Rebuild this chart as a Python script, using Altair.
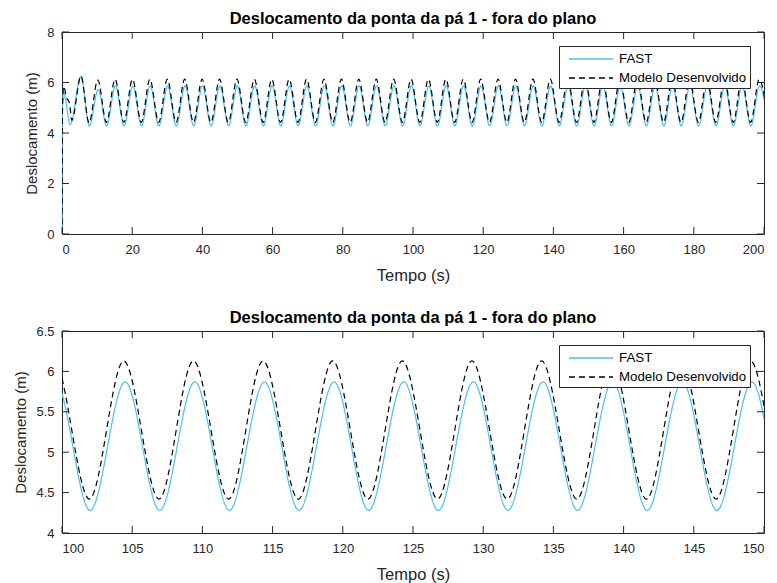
import altair as alt
import pandas as pd

# ---------------- data ----------------
# start-up transient (time s, displacement m)
fast_start_t = [0.0, 0.12, 0.45, 1.0, 2.3, 5.4, 7.8, 10.3]
fast_start_v = [0.0, 4.8, 5.62, 5.35, 4.33, 6.25, 4.28, 5.72]
model_start_t = [0.0, 0.15, 0.45, 1.3, 2.1, 2.8, 5.4, 7.7, 10.2]
model_start_v = [0.0, 5.0, 5.85, 5.4, 5.2, 4.5, 6.25, 4.4, 6.1]

# steady oscillation: times of the troughs and peaks
fast_trough_t = [12.72, 17.68, 22.64, 27.60, 32.56, 37.52, 42.48, 47.44, 52.40, 57.36,
                 62.32, 67.28, 72.24, 77.20, 82.16, 87.12, 92.08, 97.04, 102.00, 106.96,
                 111.92, 116.88, 121.84, 126.80, 131.76, 136.72, 141.68, 146.64, 151.60,
                 156.56, 161.52, 166.48, 171.44, 176.40, 181.36, 186.32, 191.28, 196.24, 201.20]
fast_peak_t = [15.22, 20.18, 25.14, 30.10, 35.06, 40.02, 44.98, 49.94, 54.90, 59.86,
               64.82, 69.78, 74.74, 79.70, 84.66, 89.62, 94.58, 99.54, 104.50, 109.46,
               114.42, 119.38, 124.34, 129.30, 134.26, 139.22, 144.18, 149.14, 154.10,
               159.06, 164.02, 168.98, 173.94, 178.90, 183.86, 188.82, 193.78, 198.74]
model_trough_t = [12.67, 17.63, 22.59, 27.55, 32.51, 37.47, 42.43, 47.39, 52.35, 57.31,
                  62.27, 67.23, 72.19, 77.15, 82.11, 87.07, 92.03, 96.99, 101.95, 106.91,
                  111.87, 116.83, 121.79, 126.75, 131.71, 136.67, 141.63, 146.59, 151.55,
                  156.51, 161.47, 166.43, 171.39, 176.35, 181.31, 186.27, 191.23, 196.19, 201.15]
model_peak_t = [15.12, 20.08, 25.04, 30.00, 34.96, 39.92, 44.88, 49.84, 54.80, 59.76,
                64.72, 69.68, 74.64, 79.60, 84.56, 89.52, 94.48, 99.44, 104.40, 109.36,
                114.32, 119.28, 124.24, 129.20, 134.16, 139.12, 144.08, 149.04, 154.00,
                158.96, 163.92, 168.88, 173.84, 178.80, 183.76, 188.72, 193.68, 198.64]
fast_trough_v = 4.28
fast_peak_v = 5.87
model_trough_v = 4.42
model_peak_v = 6.13

series_names = ["FAST", "Modelo Desenvolvido"]
series_colors = ["#4DBEEE", "#000000"]

top_xticks = [0, 20, 40, 60, 80, 100, 120, 140, 160, 180, 200]
top_yticks = [0, 2, 4, 6, 8]
bot_xticks = [100, 105, 110, 115, 120, 125, 130, 135, 140, 145, 150]
bot_yticks = [4, 4.5, 5, 5.5, 6, 6.5]

title_text = "Deslocamento da ponta da pá 1 - fora do plano"
x_title = "Tempo (s)"
y_title = "Deslocamento (m)"


# ---------------- build table ----------------
def build(name, st, sv, tt, tv, pt, pv):
    rows = [(t, v) for t, v in zip(st, sv)]
    rows += [(t, tv) for t in tt]
    rows += [(t, pv) for t in pt]
    rows.sort()
    return pd.DataFrame({"t": [r[0] for r in rows], "v": [r[1] for r in rows], "serie": name})


df = pd.concat([
    build("FAST", fast_start_t, fast_start_v, fast_trough_t, fast_trough_v, fast_peak_t, fast_peak_v),
    build("Modelo Desenvolvido", model_start_t, model_start_v, model_trough_t, model_trough_v,
          model_peak_t, model_peak_v),
], ignore_index=True)
df["ordem"] = df["serie"].map({"FAST": 0, "Modelo Desenvolvido": 1})

W, H = 702, 202
TK = 7
AX = "#262626"
FONT = "Liberation Sans"


def panel(xdom, ydom, xticks, yticks):
    legend = alt.Legend(
        title=None, orient="top-right", offset=14, fillColor="white", strokeColor=AX,
        padding=3, symbolType="M-2.45,0H2.45", symbolSize=324, symbolStrokeWidth=1.3,
        symbolFillColor="transparent",
        labelFontSize=13.3, labelFont=FONT, labelColor="black", rowPadding=2,
        labelOffset=18, symbolOffset=19, cornerRadius=0,
    )
    X = alt.X("t:Q", scale=alt.Scale(domain=xdom, nice=False, zero=False),
              axis=alt.Axis(values=xticks, title=x_title, format="~f",
                            labelPadding=9, titlePadding=11, titleFontSize=16.5))
    Y = alt.Y("v:Q", scale=alt.Scale(domain=ydom, nice=False, zero=False),
              axis=alt.Axis(values=yticks, title=y_title, format="~f",
                            labelPadding=8, titlePadding=7, titleFontSize=15))
    lines = alt.Chart(df).mark_line(interpolate="monotone", strokeWidth=1.2, clip=True).encode(
        x=X, y=Y,
        color=alt.Color("serie:N", scale=alt.Scale(domain=series_names, range=series_colors),
                        legend=legend),
        strokeDash=alt.StrokeDash("serie:N", scale=alt.Scale(domain=series_names,
                                                             range=[[1, 0], [6, 4]]),
                                  legend=legend),
        order=alt.Order("ordem:Q"),
    )
    xt = pd.DataFrame({"t": xticks})
    yt = pd.DataFrame({"v": yticks})
    tb = alt.Chart(xt).mark_rule(color=AX).encode(x=X, y=alt.value(H), y2=alt.value(H - TK))
    tt = alt.Chart(xt).mark_rule(color=AX).encode(x=X, y=alt.value(0), y2=alt.value(TK))
    tl = alt.Chart(yt).mark_rule(color=AX).encode(y=Y, x=alt.value(0), x2=alt.value(TK))
    tr = alt.Chart(yt).mark_rule(color=AX).encode(y=Y, x=alt.value(W - TK), x2=alt.value(W))
    return alt.layer(lines, tb, tt, tl, tr).properties(
        width=W, height=H,
        title=alt.TitleParams(title_text, fontSize=16.5, font=FONT, fontWeight="bold",
                              color="black", frame="group", anchor="middle", offset=-1),
    )


top = panel([0, 200], [0, 8], top_xticks, top_yticks)
bot = panel([100, 150], [4, 6.5], bot_xticks, bot_yticks)

chart = alt.vconcat(top, bot, spacing=25).resolve_scale(
    color="independent", strokeDash="independent"
).resolve_legend(color="independent", strokeDash="independent").properties(
    padding={"left": 13, "top": 10, "right": 5, "bottom": 2},
    background="white",
).configure_view(stroke=AX, strokeWidth=1).configure_axis(
    labelFont=FONT, labelFontSize=13, labelColor=AX, titleFont=FONT,
    titleFontWeight="normal", titleColor=AX, domain=False, ticks=False, grid=False,
)

chart.save("out.html", embed_options={"renderer": "svg", "actions": False})
